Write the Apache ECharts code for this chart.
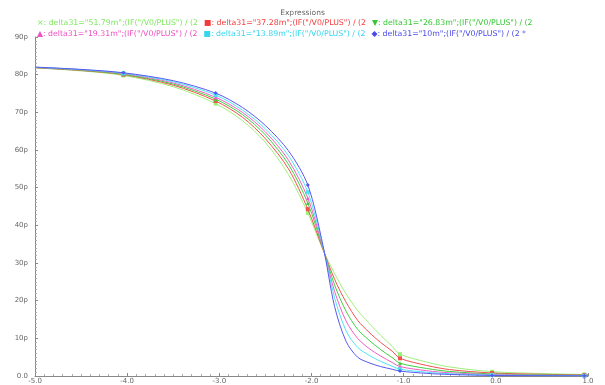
<!DOCTYPE html>
<html><head><meta charset="utf-8">
<script src="https://cdn.jsdelivr.net/npm/echarts@6/dist/echarts.min.js"></script>
<style>html,body{margin:0;padding:0;background:#fff}#c{width:605px;height:385px}</style>
</head><body><div id="c"></div>
<script>
const xs = [-5, -4.5, -4.04, -3.5, -3.04, -2.75, -2.5, -2.25, -2.04, -1.875, -1.75, -1.625, -1.5, -1.375, -1.25, -1.125, -1.04, -0.75, -0.5, -0.04, 0.5, 0.96, 1];
const markerXs = [-4.04, -3.04, -2.04, -1.04, -0.04, 0.96];
const names = [
  'delta31="51.79m";(IF("/V0/PLUS") / (2',
  'delta31="37.28m";(IF("/V0/PLUS") / (2',
  'delta31="26.83m";(IF("/V0/PLUS") / (2',
  'delta31="19.31m";(IF("/V0/PLUS") / (2',
  'delta31="13.89m";(IF("/V0/PLUS") / (2',
  'delta31="10m";(IF("/V0/PLUS") / (2 *'
];
const glyphs = ['×:', '■:', '▼:', '▲:', '■:', '◆:'];
const colors = ['#9ef07a', '#f25050', '#3fcf3f', '#f45cc4', '#4fe3f2', '#5858f0'];
const textColors = ['#7fe860', '#f23c3c', '#36c836', '#f050c0', '#36d6ee', '#4a4ae8'];
const symbols = ['rect', 'rect', 'triangle', 'triangle', 'rect', 'diamond'];
// values in "p" units
const v51 = [81.8, 81.0, 79.8, 76.8, 72.3, 67.8, 62.0, 53.5, 43.3, 33.5, 27.2, 21.8, 17.4, 14.0, 10.8, 7.9, 5.8, 3.7, 2.4, 1.15, 0.65, 0.4, 0.38];
const v37 = [81.85, 81.1, 80.0, 77.2, 73.0, 68.7, 63.0, 55.0, 44.3, 33.6, 25.7, 19.6, 14.8, 11.6, 8.9, 6.6, 4.7, 2.8, 1.7, 0.8, 0.45, 0.28, 0.27];
const v26 = [81.9, 81.2, 80.1, 77.5, 73.5, 69.4, 64.0, 56.2, 45.9, 33.8, 24.2, 17.2, 12.4, 9.5, 7.0, 4.9, 3.4, 2.0, 1.2, 0.55, 0.3, 0.18, 0.17];
const v19 = [81.95, 81.3, 80.3, 77.8, 74.0, 70.0, 64.8, 57.3, 47.2, 34.0, 22.5, 14.6, 10.0, 7.3, 5.3, 3.6, 2.5, 1.4, 0.85, 0.38, 0.2, 0.12, 0.11];
const v13 = [82.0, 81.35, 80.4, 78.1, 74.6, 70.6, 65.6, 58.5, 48.8, 34.3, 20.8, 12.0, 7.6, 5.5, 3.9, 2.6, 1.8, 1.0, 0.6, 0.25, 0.14, 0.08, 0.08];
const v10 = [82.0, 81.4, 80.5, 78.4, 75.1, 71.3, 66.5, 59.8, 50.7, 34.6, 18.5, 9.2, 5.0, 3.5, 2.5, 1.8, 1.3, 0.7, 0.4, 0.15, 0.08, 0.05, 0.05];
const allVals = [v51, v37, v26, v19, v13, v10];
const xTicks = [-5, -4, -3, -2, -1, 0, 1];
const yTicks = [0, 10, 20, 30, 40, 50, 60, 70, 80, 90];

const font = 'DejaVu Sans';
const chart = echarts.init(document.getElementById('c'));
const series = allVals.map((vals, k) => ({
  name: names[k],
  type: 'line',
  data: xs.map((x, i) => [x, vals[i]]),
  smooth: 0.3,
  symbol: symbols[k],
  symbolSize: (val) => markerXs.includes(val[0]) ? 4 : 0,
  showSymbol: true,
  lineStyle: { color: colors[k], width: 1 },
  itemStyle: { color: colors[k] },
  z: 2 + k,
  animation: false
}));
const legendItem = (k) => ({ name: names[k], icon: 'none', textStyle: { color: textColors[k] } });
const legendCommon = {
  left: 32, itemWidth: 0, itemHeight: 6, itemGap: 1, padding: 0,
  formatter: n => glyphs[names.indexOf(n)] + ' ' + n,
  textStyle: { fontFamily: font, fontSize: 7.8 }
};
chart.setOption({
  animation: false,
  title: { text: 'Expressions', left: 'center', top: 4,
    textStyle: { fontFamily: font, fontSize: 7.5, fontWeight: 'normal', color: '#666' } },
  legend: [
    Object.assign({ data: [0, 1, 2].map(legendItem), top: 19 }, legendCommon),
    Object.assign({ data: [3, 4, 5].map(legendItem), top: 30 }, legendCommon)
  ],
  grid: { left: 35, right: 17, top: 37, bottom: 9, containLabel: false },
  xAxis: {
    type: 'value', min: xTicks[0], max: xTicks[xTicks.length - 1], interval: 1,
    axisLine: { onZero: false, lineStyle: { color: '#888', width: 1 } },
    axisTick: { show: true, length: 3, inside: true, lineStyle: { color: '#888' } },
    minorTick: { show: true, splitNumber: 10, length: 2, lineStyle: { color: '#aaa' } },
    splitLine: { show: false },
    axisLabel: { fontFamily: font, fontSize: 7, color: '#666', margin: 2, formatter: v => v.toFixed(1) }
  },
  yAxis: {
    type: 'value', min: yTicks[0], max: yTicks[yTicks.length - 1], interval: 10,
    axisLine: { show: true, onZero: false, lineStyle: { color: '#888', width: 1 } },
    axisTick: { show: true, length: 3, inside: true, lineStyle: { color: '#888' } },
    minorTick: { show: true, splitNumber: 10, length: 2, lineStyle: { color: '#aaa' } },
    splitLine: { show: false },
    axisLabel: { fontFamily: font, fontSize: 7, color: '#666', margin: 7, formatter: v => v === 0 ? '0.0' : v + 'p' }
  },
  series: series
});
</script></body></html>
